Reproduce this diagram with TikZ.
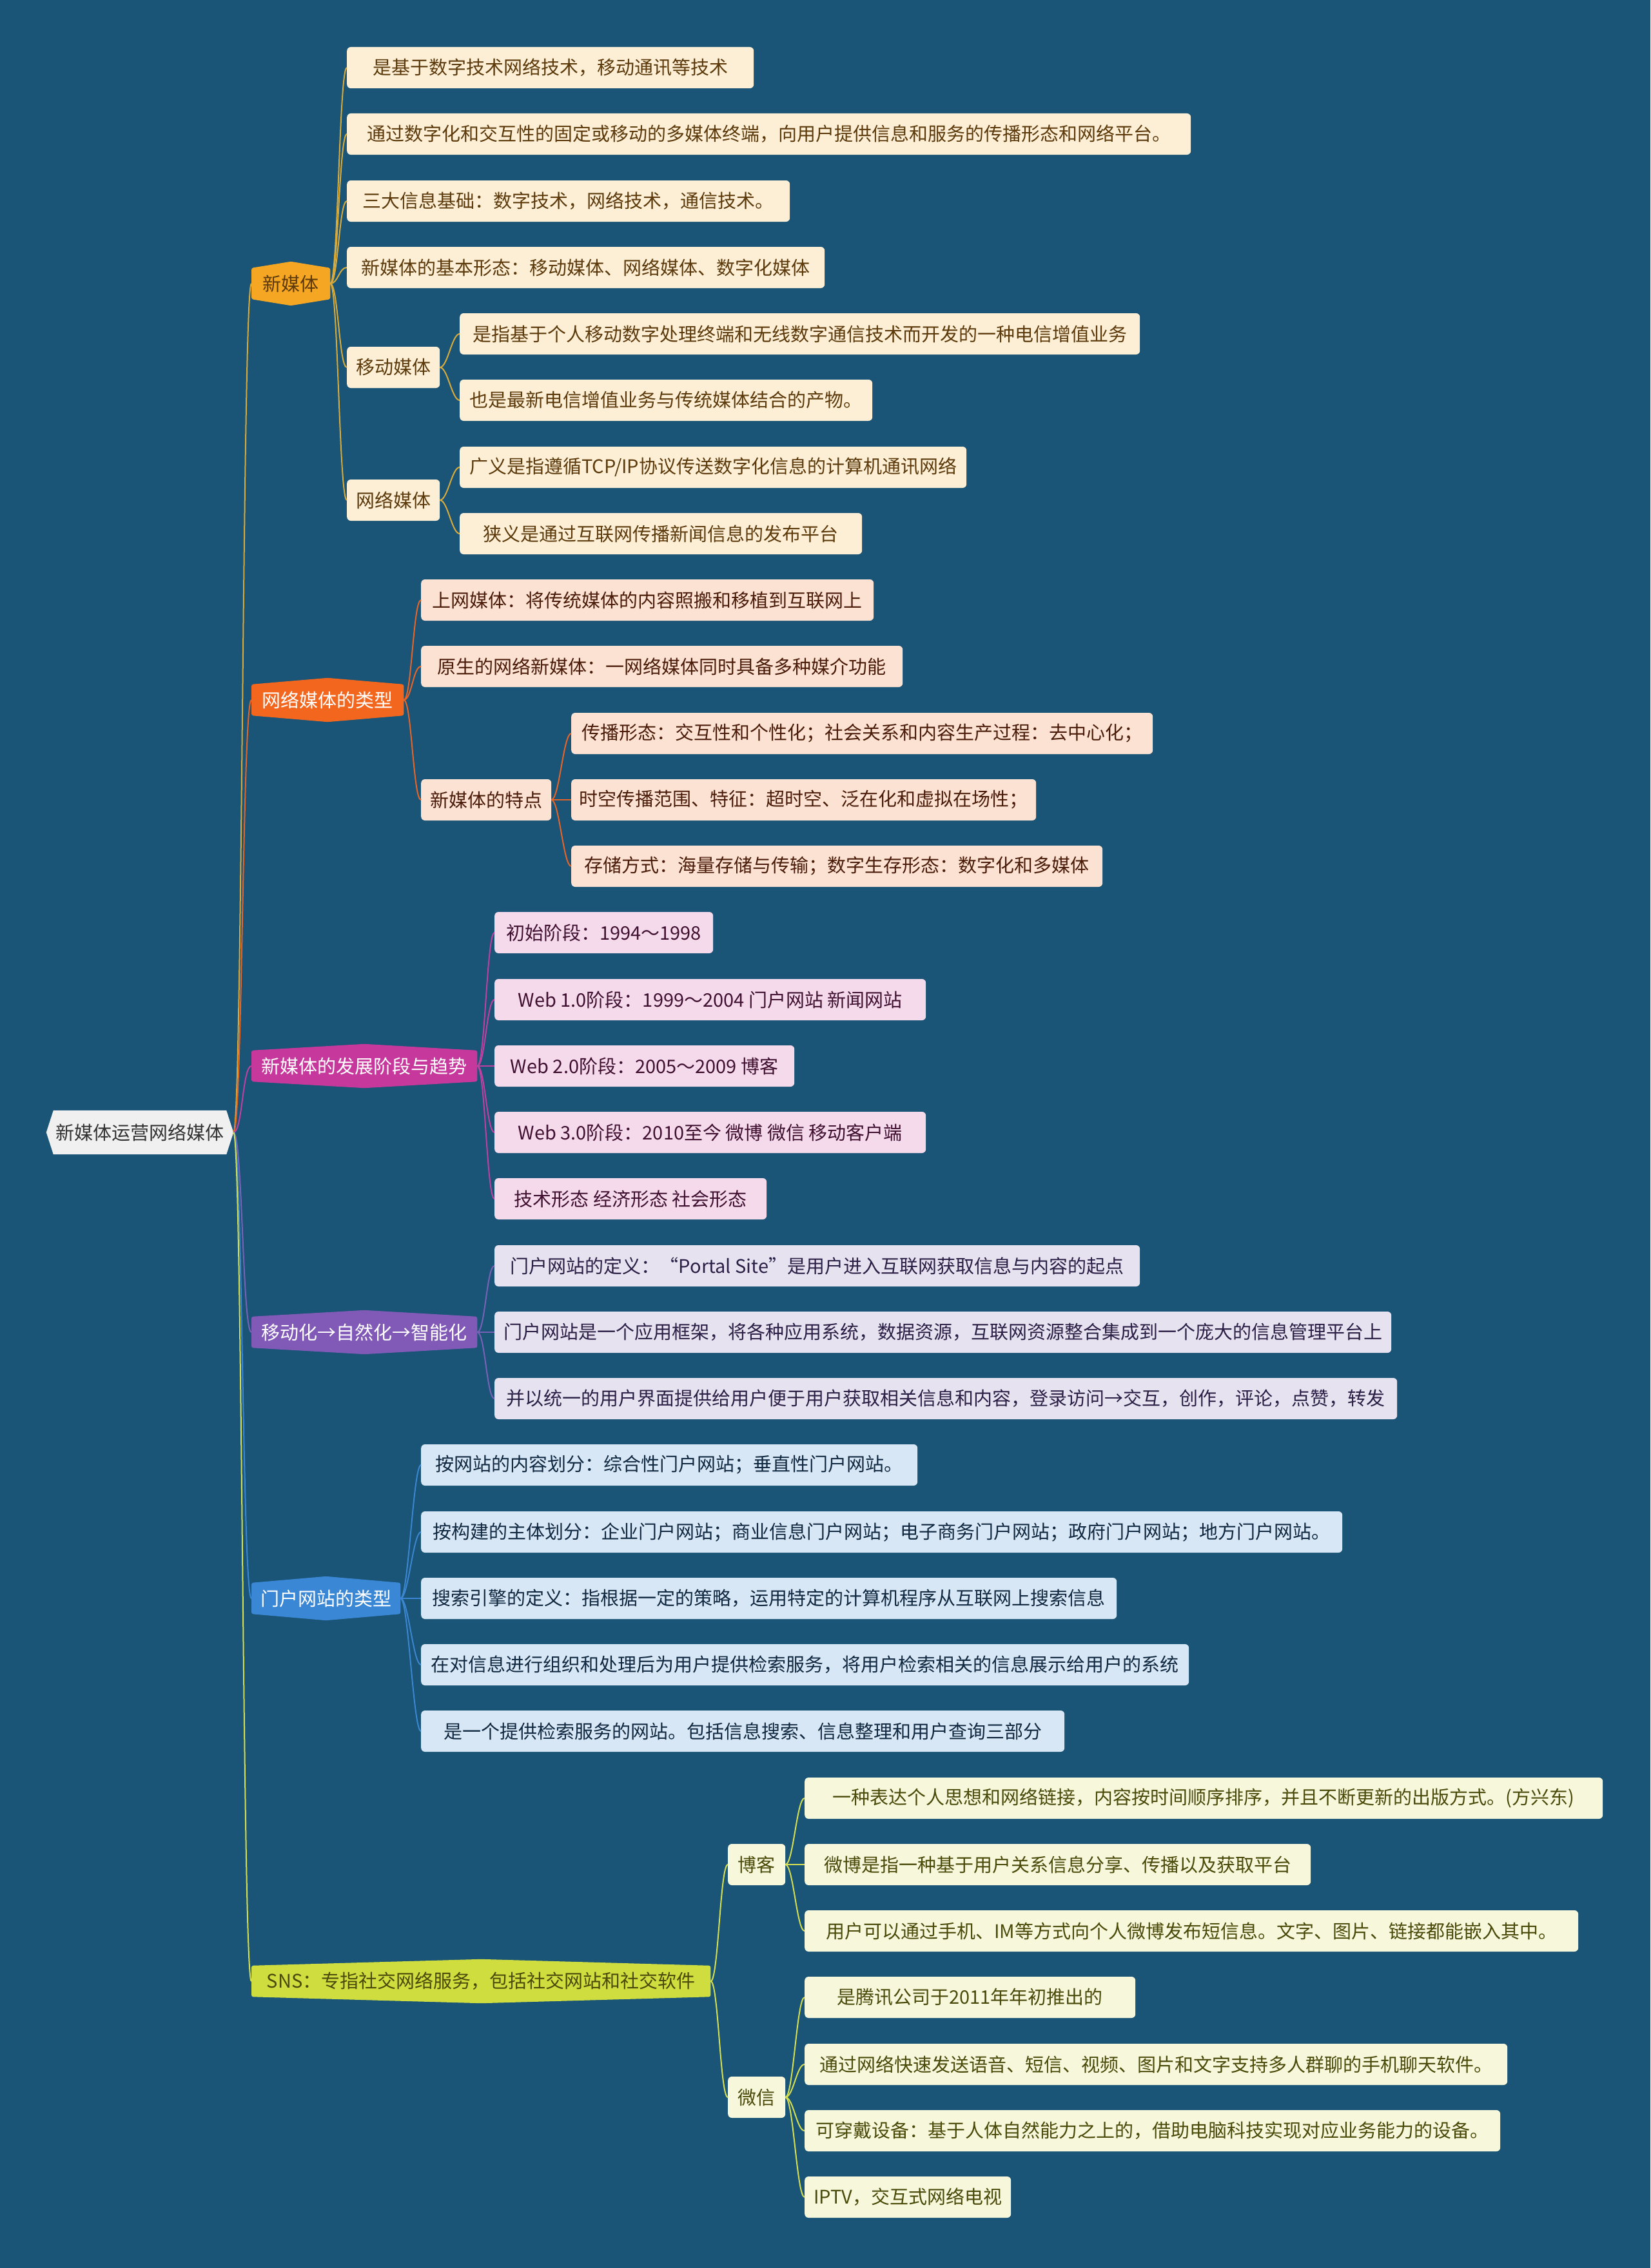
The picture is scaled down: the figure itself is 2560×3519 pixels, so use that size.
\documentclass[tikz,border=0pt]{standalone}
\usepackage{fontspec}
\newfontfamily\cjk{Noto Sans CJK SC}
\usetikzlibrary{calc,backgrounds}
\definecolor{mmbg}{RGB}{26,84,118}
\definecolor{rootfill}{RGB}{240,240,240}
\definecolor{rootink}{RGB}{51,51,51}
\definecolor{gdhead}{RGB}{245,166,35}
\definecolor{gdleaf}{RGB}{253,239,213}
\definecolor{gdink}{RGB}{92,58,12}
\definecolor{gdline}{RGB}{215,170,60}
\definecolor{orhead}{RGB}{243,102,30}
\definecolor{orleaf}{RGB}{252,226,211}
\definecolor{orink}{RGB}{75,28,10}
\definecolor{orline}{RGB}{230,100,40}
\definecolor{mghead}{RGB}{198,56,156}
\definecolor{mgleaf}{RGB}{245,218,236}
\definecolor{mgink}{RGB}{64,16,48}
\definecolor{mgline}{RGB}{190,64,160}
\definecolor{pphead}{RGB}{128,90,182}
\definecolor{ppleaf}{RGB}{230,226,240}
\definecolor{ppink}{RGB}{43,31,69}
\definecolor{ppline}{RGB}{120,98,184}
\definecolor{blhead}{RGB}{58,135,213}
\definecolor{blleaf}{RGB}{215,231,245}
\definecolor{blink}{RGB}{16,40,64}
\definecolor{blline}{RGB}{58,134,208}
\definecolor{ylhead}{RGB}{208,221,63}
\definecolor{ylleaf}{RGB}{247,247,219}
\definecolor{ylink}{RGB}{74,74,10}
\definecolor{ylline}{RGB}{212,222,80}
\tikzset{
  mmtext/.style={font=\cjk\fontsize{29}{35}\selectfont},
  rootnode/.style={mmtext, text=rootink, minimum width=290pt, minimum height=68pt},
  head/.style={mmtext, anchor=west, minimum height=48pt, inner xsep=6pt},
  leaf/.style={mmtext, anchor=west, rounded corners=6pt, minimum height=64pt, inner xsep=8pt},
  gleaf/.style={leaf, fill=gdleaf, text=gdink},
  oleaf/.style={leaf, fill=orleaf, text=orink},
  mleaf/.style={leaf, fill=mgleaf, text=mgink},
  pleaf/.style={leaf, fill=ppleaf, text=ppink},
  bleaf/.style={leaf, fill=blleaf, text=blink},
  yleaf/.style={leaf, fill=ylleaf, text=ylink},
  link/.style={line width=2pt}
}

\begin{document}
\begin{tikzpicture}[x=1pt, y=-1pt]
  \useasboundingbox (0,0) rectangle (2560,3519);
  \begin{scope}[on background layer]
    \fill[mmbg] (0,0) rectangle (2560,3519);
  \end{scope}

  \node[rootnode] (root) at (217,1757) {新媒体运营网络媒体};

  \node[head, text=gdink, minimum width=122pt] (xmt) at (390,440) {新媒体};
  \node[head, text=white, minimum width=236pt] (wllx) at (390,1086) {网络媒体的类型};
  \node[head, text=white, minimum width=350pt] (fzjd) at (390,1654) {新媒体的发展阶段与趋势};
  \node[head, text=white, minimum width=350pt] (ydh) at (390,2067) {移动化→自然化→智能化};
  \node[head, text=white, minimum width=231pt] (mhlx) at (390,2480) {门户网站的类型};
  \node[head, text=ylink, minimum width=712pt] (sns) at (390,3074) {SNS：专指社交网络服务，包括社交网站和社交软件};

  \node[gleaf, minimum width=631pt] (xmt1) at (538,105) {是基于数字技术网络技术，移动通讯等技术};
  \node[gleaf, minimum width=1309pt] (xmt2) at (538,208) {通过数字化和交互性的固定或移动的多媒体终端，向用户提供信息和服务的传播形态和网络平台。};
  \node[gleaf, minimum width=687pt] (xmt3) at (538,312) {三大信息基础：数字技术，网络技术，通信技术。};
  \node[gleaf, minimum width=741pt] (xmt4) at (538,415) {新媒体的基本形态：移动媒体、网络媒体、数字化媒体};
  \node[gleaf, minimum width=144pt] (ydmt) at (538,570) {移动媒体};
  \node[gleaf, minimum width=1055pt] (ydmt1) at (713,518) {是指基于个人移动数字处理终端和无线数字通信技术而开发的一种电信增值业务};
  \node[gleaf, minimum width=640pt] (ydmt2) at (713,621) {也是最新电信增值业务与传统媒体结合的产物。};
  \node[gleaf, minimum width=144pt] (wlmt) at (538,776) {网络媒体};
  \node[gleaf, minimum width=786pt] (wlmt1) at (713,725) {广义是指遵循TCP/IP协议传送数字化信息的计算机通讯网络};
  \node[gleaf, minimum width=624pt] (wlmt2) at (713,828) {狭义是通过互联网传播新闻信息的发布平台};

  \node[oleaf, minimum width=702pt] (wllx1) at (653,931) {上网媒体：将传统媒体的内容照搬和移植到互联网上};
  \node[oleaf, minimum width=747pt] (wllx2) at (653,1034) {原生的网络新媒体：一网络媒体同时具备多种媒介功能};
  \node[oleaf, minimum width=202pt] (tedian) at (653,1241) {新媒体的特点};
  \node[oleaf, minimum width=902pt] (tedian1) at (886,1138) {传播形态：交互性和个性化；社会关系和内容生产过程：去中心化；};
  \node[oleaf, minimum width=721pt] (tedian2) at (886,1241) {时空传播范围、特征：超时空、泛在化和虚拟在场性；};
  \node[oleaf, minimum width=824pt] (tedian3) at (886,1344) {存储方式：海量存储与传输；数字生存形态：数字化和多媒体};

  \node[mleaf, minimum width=339pt] (fzjd1) at (767,1447) {初始阶段：1994～1998};
  \node[mleaf, minimum width=669pt] (fzjd2) at (767,1551) {Web 1.0阶段：1999～2004 门户网站 新闻网站};
  \node[mleaf, minimum width=465pt] (fzjd3) at (767,1654) {Web 2.0阶段：2005～2009 博客};
  \node[mleaf, minimum width=669pt] (fzjd4) at (767,1757) {Web 3.0阶段：2010至今 微博 微信 移动客户端};
  \node[mleaf, minimum width=422pt] (fzjd5) at (767,1860) {技术形态 经济形态 社会形态};

  \node[pleaf, minimum width=1001pt] (ydh1) at (767,1964) {门户网站的定义：“Portal Site”是用户进入互联网获取信息与内容的起点};
  \node[pleaf, minimum width=1391pt] (ydh2) at (767,2067) {门户网站是一个应用框架，将各种应用系统，数据资源，互联网资源整合集成到一个庞大的信息管理平台上};
  \node[pleaf, minimum width=1400pt] (ydh3) at (767,2170) {并以统一的用户界面提供给用户便于用户获取相关信息和内容，登录访问→交互，创作，评论，点赞，转发};

  \node[bleaf, minimum width=770pt] (mhlx1) at (653,2273) {按网站的内容划分：综合性门户网站；垂直性门户网站。};
  \node[bleaf, minimum width=1429pt] (mhlx2) at (653,2377) {按构建的主体划分：企业门户网站；商业信息门户网站；电子商务门户网站；政府门户网站；地方门户网站。};
  \node[bleaf, minimum width=1079pt] (mhlx3) at (653,2480) {搜索引擎的定义：指根据一定的策略，运用特定的计算机程序从互联网上搜索信息};
  \node[bleaf, minimum width=1191pt] (mhlx4) at (653,2583) {在对信息进行组织和处理后为用户提供检索服务，将用户检索相关的信息展示给用户的系统};
  \node[bleaf, minimum width=998pt] (mhlx5) at (653,2686) {是一个提供检索服务的网站。包括信息搜索、信息整理和用户查询三部分};

  \node[yleaf, minimum width=89pt] (boke) at (1129,2893) {博客};
  \node[yleaf, minimum width=1238pt] (boke1) at (1248,2790) {一种表达个人思想和网络链接，内容按时间顺序排序，并且不断更新的出版方式。(方兴东)};
  \node[yleaf, minimum width=785pt] (boke2) at (1248,2893) {微博是指一种基于用户关系信息分享、传播以及获取平台};
  \node[yleaf, minimum width=1200pt] (boke3) at (1248,2996) {用户可以通过手机、IM等方式向个人微博发布短信息。文字、图片、链接都能嵌入其中。};
  \node[yleaf, minimum width=89pt] (weixin) at (1129,3254) {微信};
  \node[yleaf, minimum width=513pt] (weixin1) at (1248,3099) {是腾讯公司于2011年年初推出的};
  \node[yleaf, minimum width=1090pt] (weixin2) at (1248,3203) {通过网络快速发送语音、短信、视频、图片和文字支持多人群聊的手机聊天软件。};
  \node[yleaf, minimum width=1079pt] (weixin3) at (1248,3306) {可穿戴设备：基于人体自然能力之上的，借助电脑科技实现对应业务能力的设备。};
  \node[yleaf, minimum width=320pt] (weixin4) at (1248,3409) {IPTV，交互式网络电视};

  \begin{scope}[on background layer]
    \fill[rootfill] ($(root.north west)+(11pt,0)$) -- ($(root.north east)+(-11pt,0)$) -- (root.east)
      -- ($(root.south east)+(-11pt,0)$) -- ($(root.south west)+(11pt,0)$) -- (root.west) -- cycle;
    \foreach \h/\c in {xmt/gdhead, wllx/orhead, fzjd/mghead, ydh/pphead, mhlx/blhead, sns/ylhead}
      \fill[\c, rounded corners=3pt] (\h.north west) -- ($(\h.north)+(0,10pt)$) -- (\h.north east)
        -- (\h.south east) -- ($(\h.south)+(0,-10pt)$) -- (\h.south west) -- cycle;
  \end{scope}

  \foreach \h/\c in {xmt/gdline, wllx/orline, fzjd/mgline, ydh/ppline, mhlx/blline, sns/ylline}
    \draw[link, \c] (root.east) .. controls +(14,0) and +(-14,0) .. (\h.west);
  \foreach \p/\k/\c in {xmt/xmt1/gdline, xmt/xmt2/gdline, xmt/xmt3/gdline, xmt/xmt4/gdline,
      xmt/ydmt/gdline, xmt/wlmt/gdline, ydmt/ydmt1/gdline, ydmt/ydmt2/gdline,
      wlmt/wlmt1/gdline, wlmt/wlmt2/gdline,
      wllx/wllx1/orline, wllx/wllx2/orline, wllx/tedian/orline,
      tedian/tedian1/orline, tedian/tedian2/orline, tedian/tedian3/orline,
      fzjd/fzjd1/mgline, fzjd/fzjd2/mgline, fzjd/fzjd3/mgline, fzjd/fzjd4/mgline, fzjd/fzjd5/mgline,
      ydh/ydh1/ppline, ydh/ydh2/ppline, ydh/ydh3/ppline,
      mhlx/mhlx1/blline, mhlx/mhlx2/blline, mhlx/mhlx3/blline, mhlx/mhlx4/blline, mhlx/mhlx5/blline,
      sns/boke/ylline, sns/weixin/ylline,
      boke/boke1/ylline, boke/boke2/ylline, boke/boke3/ylline,
      weixin/weixin1/ylline, weixin/weixin2/ylline, weixin/weixin3/ylline, weixin/weixin4/ylline}
    \draw[link, \c] (\p.east) .. controls +(12,0) and +(-12,0) .. (\k.west);
\end{tikzpicture}
\end{document}
